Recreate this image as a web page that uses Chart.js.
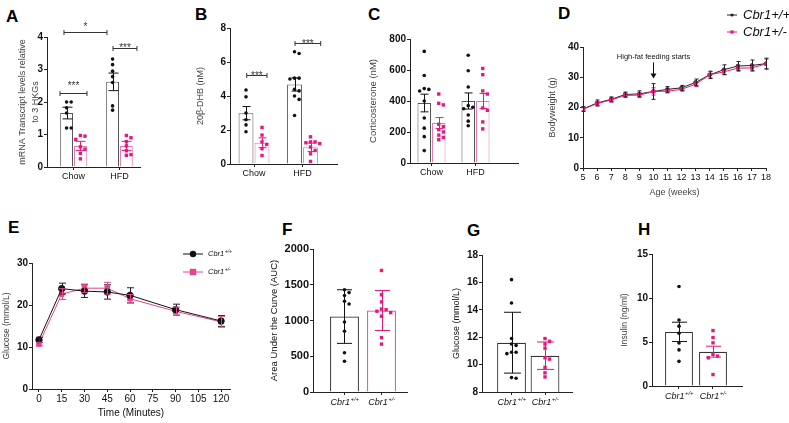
<!DOCTYPE html>
<html>
<head>
<meta charset="utf-8">
<script src="https://cdn.jsdelivr.net/npm/chart.js@4.4.1/dist/chart.umd.min.js"></script>
<style>
  html, body { margin: 0; padding: 0; background: #fff; }
  #figure { position: relative; width: 789px; height: 423px; overflow: hidden; background: #fff; }
  #figure canvas { position: absolute; left: 0; top: 0; }
  .letter { position: absolute; font: bold 17px 'Liberation Sans', Arial, sans-serif; line-height: 17px; color: #000; }
</style>
</head>
<body>
<div id="figure">
  <div class="letter" style="left:6px;top:8px">A</div>
  <div class="letter" style="left:195px;top:6px">B</div>
  <div class="letter" style="left:368px;top:6px">C</div>
  <div class="letter" style="left:558px;top:5px">D</div>
  <div class="letter" style="left:8px;top:219px">E</div>
  <div class="letter" style="left:282px;top:221px">F</div>
  <div class="letter" style="left:467px;top:222px">G</div>
  <div class="letter" style="left:638px;top:221px">H</div>
</div>
<script>
// ---------- data ----------
const dietGroups = ['Chow', 'HFD'];
const genotypes = [['Cbr1', '+/+'], ['Cbr1', '+/-']];
const groupPos = [1, 2];

// A: Cbr1 mRNA
const mrnaTicks = [0, 1, 2, 3, 4];
const mrnaMeanWt = [1.66, 2.62];
const mrnaSemWt = [0.18, 0.27];
const mrnaMeanHet = [0.65, 0.65];
const mrnaSemHet = [0.14, 0.14];
const mrnaChowWt = [2.0, 2.0, 1.82, 1.66, 1.2, 1.2];
const mrnaChowHet = [0.97, 0.95, 0.85, 0.62, 0.55, 0.42, 0.25];
const mrnaHfdWt = [3.32, 3.15, 2.95, 2.78, 2.6, 1.88, 1.75];
const mrnaHfdHet = [0.97, 0.9, 0.78, 0.65, 0.5, 0.38, 0.36];

// B: 20b-DHB
const dhbTicks = [0, 2, 4, 6, 8];
const dhbMeanWt = [2.99, 4.68];
const dhbSemWt = [0.39, 0.39];
const dhbMeanHet = [1.25, 0.98];
const dhbSemHet = [0.29, 0.25];
const dhbChowWt = [4.35, 3.95, 3.0, 2.6, 2.3, 1.9];
const dhbChowHet = [2.15, 1.7, 1.3, 1.15, 0.9, 0.5];
const dhbHfdWt = [6.6, 6.5, 5.05, 5.05, 5.0, 4.4, 4.3, 4.0, 3.8, 2.85];
const dhbHfdHet = [1.6, 1.3, 1.3, 1.25, 1.2, 1.0, 0.8, 0.6, 0.15];

// C: corticosterone
const cortTicks = [0, 200, 400, 600, 800];
const cortMeanWt = [387, 400];
const cortSemWt = [57, 52];
const cortMeanHet = [258, 400];
const cortSemHet = [35, 48];
const cortChowWt = [720, 565, 480, 475, 465, 400, 290, 225, 170, 80];
const cortChowHet = [445, 385, 375, 250, 235, 215, 200, 180, 165, 150];
const cortHfdWt = [695, 595, 490, 370, 360, 350, 310, 270, 240];
const cortHfdHet = [610, 570, 465, 445, 355, 340, 265, 220];

// D: bodyweight
const weeks = [5, 6, 7, 8, 9, 10, 11, 12, 13, 14, 15, 16, 17, 18];
const weightTicks = [0, 10, 20, 30, 40];
const weightWt = [19.5, 21.5, 22.7, 24.3, 24.5, 25.3, 26.0, 26.5, 28.3, 30.8, 32.5, 33.7, 33.9, 34.5];
const weightWtSem = [0.8, 1.0, 0.8, 0.8, 1.0, 2.6, 0.9, 0.8, 1.1, 1.2, 1.6, 1.5, 1.8, 1.8];
const weightHet = [19.4, 21.3, 22.5, 24.0, 24.1, 25.3, 25.4, 26.0, 27.7, 30.8, 31.8, 33.0, 33.1, 34.4];
const weightHetSem = [0.5, 0.7, 0.7, 0.7, 0.7, 1.2, 0.6, 0.6, 0.8, 1.0, 1.0, 1.0, 1.0, 1.6];

// E: glucose tolerance test
const gttMinutes = [0, 15, 30, 45, 60, 90, 120];
const gttTicks = [0, 15, 30, 45, 60, 75, 90, 105, 120];
const glucoseTicks = [0, 10, 20, 30];
const glucoseWt = [11.7, 23.9, 23.3, 23.1, 22.3, 18.9, 16.2];
const glucoseWtSem = [0.6, 1.3, 1.5, 1.7, 1.8, 1.3, 1.3];
const glucoseHet = [10.7, 22.6, 24.0, 24.0, 21.5, 18.5, 16.0];
const glucoseHetSem = [0.4, 1.3, 1.0, 1.4, 1.0, 1.0, 1.3];

// F: area under the curve
const aucTicks = [0, 500, 1000, 1500, 2000];
const aucMean = [1055, 1140];
const aucSd = [375, 280];
const aucWt = [1430, 1390, 1350, 1270, 1230, 980, 850, 550, 430];
const aucHet = [1700, 1360, 1260, 1160, 1150, 1130, 1110, 1060, 760, 670];

// G: fasting glucose
const fastTicks = [8, 10, 12, 14, 16, 18];
const fastMean = [11.6, 10.65];
const fastSd = [2.22, 1.0];
const fastWt = [16.2, 14.5, 11.9, 11.5, 11.4, 10.9, 10.9, 10.8, 9.05, 9.0];
const fastHet = [11.9, 11.7, 11.5, 11.2, 10.5, 10.4, 9.8, 9.4, 9.1];

// H: insulin
const insulinTicks = [0, 5, 10, 15];
const insulinMean = [6.15, 3.9];
const insulinSem = [1.1, 0.62];
const insulinWt = [11.3, 7.5, 6.8, 6.0, 4.9, 4.1, 2.8];
const insulinHet = [6.3, 5.5, 4.9, 3.6, 3.4, 3.2, 1.3];

// ---------- look ----------
const W = 789, H = 423;
const FONT = "'Liberation Sans', Arial, sans-serif";
const PINK = '#e5197c';
const PINK_LIGHT = '#e27ab2';
const AXIS = '#222';

// error bars (mean +/- err) for any dataset carrying an `errors` array
const errorBars = {
    id: 'errorBars',
    afterDatasetsDraw(chart) {
        const ctx = chart.ctx;
        const y = chart.scales.y;
        chart.data.datasets.forEach((ds, i) => {
            if (!ds.errors) return;
            const meta = chart.getDatasetMeta(i);
            ctx.save();
            ctx.strokeStyle = ds.errorColor;
            ctx.lineWidth = 1;
            meta.data.forEach((el, j) => {
                const v = ds.data[j].y;
                const x = Math.round(el.x) + 0.5;
                const top = y.getPixelForValue(v + ds.errors[j]);
                const bot = y.getPixelForValue(v - ds.errors[j]);
                const c = ds.errorCap;
                ctx.beginPath();
                ctx.moveTo(x, top); ctx.lineTo(x, bot);
                ctx.moveTo(x - c, top); ctx.lineTo(x + c, top);
                ctx.moveTo(x - c, bot); ctx.lineTo(x + c, bot);
                ctx.stroke();
            });
            ctx.restore();
        });
    }
};

// individual animals, spread like a small beeswarm over their bar
const dotSwarm = {
    id: 'dotSwarm',
    afterDatasetsDraw(chart) {
        const ctx = chart.ctx;
        const y = chart.scales.y;
        chart.data.datasets.forEach((ds, i) => {
            if (!ds.dots) return;
            const meta = chart.getDatasetMeta(i);
            ctx.save();
            ctx.fillStyle = ds.dotColor;
            meta.data.forEach((el, j) => {
                const placed = [];
                const pys = ds.dots[j].map(v => y.getPixelForValue(v)).sort((a, b) => a - b);
                pys.forEach(py => {
                    let px = el.x;
                    for (let k = 0; k < 15; k++) {
                        const off = (k % 2 ? 1 : -1) * Math.ceil(k / 2) * ds.dotStep;
                        const hit = placed.some(p => Math.hypot(p.x - (el.x + off), p.y - py) < ds.dotStep - 0.5);
                        if (!hit) { px = el.x + off; break; }
                    }
                    placed.push({ x: px, y: py });
                    if (ds.dotShape === 'rect') {
                        ctx.fillRect(px - 1.7, py - 1.7, 3.4, 3.4);
                    } else {
                        ctx.beginPath();
                        ctx.arc(px, py, 1.8, 0, Math.PI * 2);
                        ctx.fill();
                    }
                });
            });
            ctx.restore();
        });
    }
};

// significance brackets, given in data units; labelY is where the asterisks sit
const brackets = {
    id: 'brackets',
    afterDraw(chart, args, opts) {
        if (!opts.items) return;
        const { ctx, scales: { x, y } } = chart;
        const size = 10;
        ctx.save();
        ctx.strokeStyle = '#333';
        ctx.fillStyle = '#333';
        ctx.lineWidth = 1;
        ctx.textAlign = 'center';
        ctx.textBaseline = 'alphabetic';
        ctx.font = size + 'px ' + FONT;
        opts.items.forEach(b => {
            const x1 = x.getPixelForValue(b.x1), x2 = x.getPixelForValue(b.x2);
            const py = Math.round(y.getPixelForValue(b.y)) + 0.5;
            ctx.beginPath();
            ctx.moveTo(x1, py); ctx.lineTo(x2, py);
            ctx.moveTo(x1, py - 2.5); ctx.lineTo(x1, py + 2.5);
            ctx.moveTo(x2, py - 2.5); ctx.lineTo(x2, py + 2.5);
            ctx.stroke();
            // an asterisk sits about 0.57em above the baseline
            ctx.fillText(b.label, (x1 + x2) / 2, y.getPixelForValue(b.labelY) + size * 0.57);
        });
        ctx.restore();
    }
};

function drawGenotype(ctx, name, sup, x, y, size, align) {
    ctx.font = 'italic ' + size + 'px ' + FONT;
    const supSize = Math.round(size * 0.68);
    const w1 = ctx.measureText(name).width;
    ctx.font = 'italic ' + supSize + 'px ' + FONT;
    const w2 = ctx.measureText(sup).width;
    const left = align === 'center' ? x - (w1 + w2) / 2 : x;
    ctx.textAlign = 'left';
    ctx.textBaseline = 'middle';
    ctx.font = 'italic ' + size + 'px ' + FONT;
    ctx.fillText(name, left, y);
    ctx.font = 'italic ' + supSize + 'px ' + FONT;
    ctx.fillText(sup, left + w1 + 0.5, y - size * 0.35);
}

// genotype tick labels with superscripts (F, G, H)
const genotypeTicks = {
    id: 'genotypeTicks',
    afterDraw(chart, args, opts) {
        if (!opts.show) return;
        const { ctx, scales: { x } } = chart;
        ctx.save();
        ctx.fillStyle = '#111';
        genotypes.forEach((g, i) => {
            drawGenotype(ctx, g[0], g[1], x.getPixelForValue(groupPos[i]), x.top + 10, 9, 'center');
        });
        ctx.restore();
    }
};

// small legends with line + marker samples (D, E)
const sampleLegend = {
    id: 'sampleLegend',
    afterDraw(chart, args, opts) {
        if (!opts.items) return;
        const ctx = chart.ctx;
        ctx.save();
        opts.items.forEach((it, i) => {
            const ds = chart.data.datasets[it.dataset];
            const y = opts.y + i * opts.gap;
            ctx.strokeStyle = ds.borderColor;
            ctx.fillStyle = ds.borderColor;
            ctx.lineWidth = 1;
            ctx.beginPath();
            ctx.moveTo(opts.x, y); ctx.lineTo(opts.x + opts.len, y);
            ctx.stroke();
            const cx = opts.x + opts.len / 2, r = opts.marker;
            if (ds.pointStyle === 'rect') {
                ctx.fillRect(cx - r, y - r, 2 * r, 2 * r);
            } else {
                ctx.beginPath(); ctx.arc(cx, y, r, 0, Math.PI * 2); ctx.fill();
            }
            ctx.fillStyle = '#111';
            if (opts.superscript) {
                drawGenotype(ctx, genotypes[i][0], genotypes[i][1], opts.x + opts.len + 5, y, opts.size, 'left');
            } else {
                ctx.font = 'italic ' + opts.size + 'px ' + FONT;
                ctx.textAlign = 'left';
                ctx.textBaseline = 'middle';
                ctx.fillText(genotypes[i][0] + genotypes[i][1], opts.x + opts.len + 6, y);
            }
        });
        ctx.restore();
    }
};

// "High-fat feeding starts" arrow in D
const feedingArrow = {
    id: 'feedingArrow',
    afterDraw(chart, args, opts) {
        if (!opts.text) return;
        const { ctx, scales: { x, y } } = chart;
        const px = Math.round(x.getPixelForValue(opts.week)) + 0.5;
        const y1 = y.getPixelForValue(opts.from), y2 = y.getPixelForValue(opts.to);
        ctx.save();
        ctx.fillStyle = '#111';
        ctx.strokeStyle = '#111';
        ctx.font = '7.5px ' + FONT;
        ctx.textAlign = 'center';
        ctx.textBaseline = 'middle';
        ctx.fillText(opts.text, px, y.getPixelForValue(opts.textAt));
        ctx.beginPath();
        ctx.moveTo(px, y1); ctx.lineTo(px, y2 - 4);
        ctx.stroke();
        ctx.beginPath();
        ctx.moveTo(px - 3, y2 - 5); ctx.lineTo(px + 3, y2 - 5); ctx.lineTo(px, y2);
        ctx.closePath();
        ctx.fill();
        ctx.restore();
    }
};

function toPoints(xs, ys) {
    return xs.map((v, i) => ({ x: v, y: ys[i] }));
}

function axis(o) {
    return {
        type: 'linear',
        min: o.min,
        max: o.max,
        offset: false,
        afterBuildTicks: s => { s.ticks = o.ticks.map(v => ({ value: v })); },
        afterFit: s => { if (o.width !== undefined) s.width = o.width; if (o.height !== undefined) s.height = o.height; },
        grid: { display: true, offset: false, drawOnChartArea: false, drawTicks: true, tickLength: 3, tickColor: AXIS, tickWidth: 1 },
        border: { display: true, color: AXIS, width: 1 },
        ticks: {
            autoSkip: false,
            maxRotation: 0,
            padding: 1,
            color: '#111',
            font: o.tickFont,
            callback: o.labels || (v => v)
        },
        title: o.title ? {
            display: true,
            text: o.title,
            color: o.titleColor || '#444',
            font: { family: FONT, size: o.titleSize, lineHeight: o.titleLine || 1.2 },
            padding: 0
        } : { display: false }
    };
}

function panel(p) {
    const canvas = document.createElement('canvas');
    canvas.width = W;
    canvas.height = H;
    document.getElementById('figure').appendChild(canvas);
    return new Chart(canvas, {
        type: p.type,
        data: { datasets: p.datasets },
        options: {
            responsive: false,
            animation: false,
            events: [],
            layout: { padding: { left: p.box.l - p.yW, top: p.box.t, right: W - p.box.r, bottom: H - p.box.b - p.xH } },
            plugins: Object.assign({ legend: { display: false }, tooltip: { enabled: false } }, p.plugins || {}),
            scales: {
                x: axis(Object.assign({ height: p.xH }, p.x)),
                y: axis(Object.assign({ width: p.yW }, p.y))
            }
        },
        plugins: [errorBars, dotSwarm, brackets, genotypeTicks, sampleLegend, feedingArrow]
    });
}

const boldTick = { family: FONT, size: 10, weight: 'bold' };
const plainTick = { family: FONT, size: 9 };

// A-C: two genotypes side by side inside each diet group
function groupedBars(meanWt, semWt, meanHet, semHet, dotsWt, dotsHet, cap, pct) {
    return [
        {
            data: toPoints(groupPos, meanWt), backgroundColor: '#fff', borderColor: '#555', borderWidth: 1,
            categoryPercentage: pct, barPercentage: 0.93,
            errors: semWt, errorColor: '#111', errorCap: cap,
            dots: dotsWt, dotColor: '#111', dotShape: 'circle', dotStep: 4.6
        },
        {
            data: toPoints(groupPos, meanHet), backgroundColor: '#fff', borderColor: PINK_LIGHT, borderWidth: 1,
            categoryPercentage: pct, barPercentage: 0.93,
            errors: semHet, errorColor: PINK, errorCap: cap,
            dots: dotsHet, dotColor: PINK, dotShape: 'rect', dotStep: 4.6
        }
    ];
}

// F-H: one bar per genotype; one dataset each (same stack) so each keeps its own colours
function singleBars(means, errs, dotsWt, dotsHet, hetBorder, cap, pct) {
    return [
        {
            data: [{ x: groupPos[0], y: means[0] }], backgroundColor: '#fff', borderColor: '#333', borderWidth: 1.2,
            categoryPercentage: pct, barPercentage: 1, stack: 's',
            errors: [errs[0]], errorColor: '#111', errorCap: cap,
            dots: [dotsWt], dotColor: '#111', dotShape: 'circle', dotStep: 4.6
        },
        {
            data: [{ x: groupPos[1], y: means[1] }], backgroundColor: '#fff', borderColor: hetBorder, borderWidth: 1.2,
            categoryPercentage: pct, barPercentage: 1, stack: 's',
            errors: [errs[1]], errorColor: PINK, errorCap: cap,
            dots: [dotsHet], dotColor: PINK, dotShape: 'rect', dotStep: 4.6
        }
    ];
}

// ---------- A ----------
panel({
    type: 'bar',
    box: { l: 47, t: 37, r: 140, b: 167 }, yW: 30.5, xH: 20,
    datasets: groupedBars(mrnaMeanWt, mrnaSemWt, mrnaMeanHet, mrnaSemHet,
        [mrnaChowWt, mrnaHfdWt], [mrnaChowHet, mrnaHfdHet], 5, 0.6),
    x: { min: 0.424, max: 2.446, ticks: groupPos, labels: v => dietGroups[v - 1], tickFont: plainTick },
    y: { min: 0, max: 4, ticks: mrnaTicks, tickFont: boldTick,
         title: ['mRNA Transcript levels relative', 'to 3 HKGs'], titleSize: 9, titleLine: 1.4 },
    plugins: { brackets: { items: [
        { x1: 0.793, x2: 1.728, y: 4.15, label: '*', labelY: 4.4 },
        { x1: 0.707, x2: 1.293, y: 2.27, label: '***', labelY: 2.585 },
        { x1: 1.859, x2: 2.38, y: 3.67, label: '***', labelY: 3.76 }
    ] } }
});

// ---------- B ----------
panel({
    type: 'bar',
    box: { l: 230, t: 28, r: 337, b: 164 }, yW: 35, xH: 20,
    datasets: groupedBars(dhbMeanWt, dhbSemWt, dhbMeanHet, dhbSemHet,
        [dhbChowWt, dhbHfdWt], [dhbChowHet, dhbHfdHet], 4, 0.66),
    x: { min: 0.505, max: 2.711, ticks: groupPos, labels: v => dietGroups[v - 1], tickFont: plainTick },
    y: { min: 0, max: 8, ticks: dhbTicks, tickFont: boldTick, title: '20β-DHB (nM)', titleSize: 9 },
    plugins: { brackets: { items: [
        { x1: 0.85, x2: 1.268, y: 5.25, label: '***', labelY: 5.34 },
        { x1: 1.845, x2: 2.375, y: 7.12, label: '***', labelY: 7.22 }
    ] } }
});

// ---------- C ----------
panel({
    type: 'bar',
    box: { l: 410, t: 39, r: 518, b: 163 }, yW: 42, xH: 20,
    datasets: groupedBars(cortMeanWt, cortSemWt, cortMeanHet, cortSemHet,
        [cortChowWt, cortHfdWt], [cortChowHet, cortHfdHet], 4, 0.66),
    x: { min: 0.511, max: 2.966, ticks: groupPos, labels: v => dietGroups[v - 1], tickFont: plainTick },
    y: { min: 0, max: 800, ticks: cortTicks, tickFont: boldTick, title: 'Corticosterone (nM)', titleSize: 9.5 }
});

// ---------- D ----------
panel({
    type: 'line',
    box: { l: 583, t: 47, r: 766, b: 168 }, yW: 35.5, xH: 30,
    datasets: [
        {
            data: toPoints(weeks, weightHet), borderColor: PINK, backgroundColor: PINK, borderWidth: 1,
            pointStyle: 'rect', pointRadius: 2, order: 0,
            errors: weightHetSem, errorColor: PINK, errorCap: 2
        },
        {
            data: toPoints(weeks, weightWt), borderColor: '#222', backgroundColor: '#222', borderWidth: 1,
            pointStyle: 'circle', pointRadius: 1.8, order: 1,
            errors: weightWtSem, errorColor: '#222', errorCap: 2
        }
    ],
    x: { min: 5, max: 18, ticks: weeks, tickFont: plainTick, title: 'Age (weeks)', titleSize: 9 },
    y: { min: 0, max: 40, ticks: weightTicks, tickFont: boldTick, title: 'Bodyweight (g)', titleSize: 9 },
    plugins: {
        sampleLegend: { items: [{ dataset: 1 }, { dataset: 0 }], x: 727, y: 15, gap: 17, len: 10, marker: 1.6, size: 13 },
        feedingArrow: { text: 'High-fat feeding starts', week: 10, textAt: 36.7, from: 34.9, to: 29.6 }
    }
});

// ---------- E ----------
panel({
    type: 'line',
    box: { l: 32, t: 263, r: 230, b: 389 }, yW: 30, xH: 30,
    datasets: [
        {
            data: toPoints(gttMinutes, glucoseWt), borderColor: '#111', backgroundColor: '#111', borderWidth: 1,
            pointStyle: 'circle', pointRadius: 3.2, order: 0,
            errors: glucoseWtSem, errorColor: '#222', errorCap: 3.5
        },
        {
            data: toPoints(gttMinutes, glucoseHet), borderColor: '#e8438f', backgroundColor: '#e8438f', borderWidth: 1,
            pointStyle: 'rect', pointRadius: 3.2, order: 1,
            errors: glucoseHetSem, errorColor: '#e8438f', errorCap: 3.5
        }
    ],
    x: { min: -4.6, max: 125.9, ticks: gttTicks, tickFont: { family: FONT, size: 10 }, title: 'Time (Minutes)', titleSize: 10, titleColor: '#111' },
    y: { min: 0, max: 30, ticks: glucoseTicks, tickFont: boldTick, title: 'Glucose (mmol/L)', titleSize: 8.5 },
    plugins: {
        sampleLegend: { items: [{ dataset: 0 }, { dataset: 1 }], x: 183, y: 254, gap: 18, len: 20, marker: 3.2, size: 7.5, superscript: true }
    }
});

// ---------- F ----------
panel({
    type: 'bar',
    box: { l: 313, t: 249, r: 407, b: 392 }, yW: 44, xH: 20,
    datasets: singleBars(aucMean, aucSd, aucWt, aucHet, '#e8409a', 7.5, 0.78),
    x: { min: 0.149, max: 2.689, ticks: groupPos, labels: () => '', tickFont: plainTick },
    y: { min: 0, max: 2000, ticks: aucTicks, tickFont: { family: FONT, size: 11, weight: 'bold' },
         title: 'Area Under the Curve (AUC)', titleSize: 9.5, titleColor: '#111' },
    plugins: { genotypeTicks: { show: true } }
});

// ---------- G ----------
panel({
    type: 'bar',
    box: { l: 482, t: 255, r: 572, b: 392 }, yW: 31, xH: 20,
    datasets: singleBars(fastMean, fastSd, fastWt, fastHet, '#333', 8.5, 0.86),
    x: { min: 0.119, max: 2.806, ticks: groupPos, labels: () => '', tickFont: plainTick },
    y: { min: 8, max: 18, ticks: fastTicks, tickFont: boldTick, title: 'Glucose (mmol/L)', titleSize: 9, titleColor: '#111' },
    plugins: { genotypeTicks: { show: true } }
});

// ---------- H ----------
panel({
    type: 'bar',
    box: { l: 652, t: 254, r: 742, b: 386 }, yW: 32, xH: 20,
    datasets: singleBars(insulinMean, insulinSem, insulinWt, insulinHet, '#333', 7.5, 0.82),
    x: { min: 0.206, max: 2.853, ticks: groupPos, labels: () => '', tickFont: plainTick },
    y: { min: 0, max: 15, ticks: insulinTicks, tickFont: boldTick, title: 'Insulin (ng/ml)', titleSize: 8.5 },
    plugins: { genotypeTicks: { show: true } }
});
</script>
</body>
</html>
